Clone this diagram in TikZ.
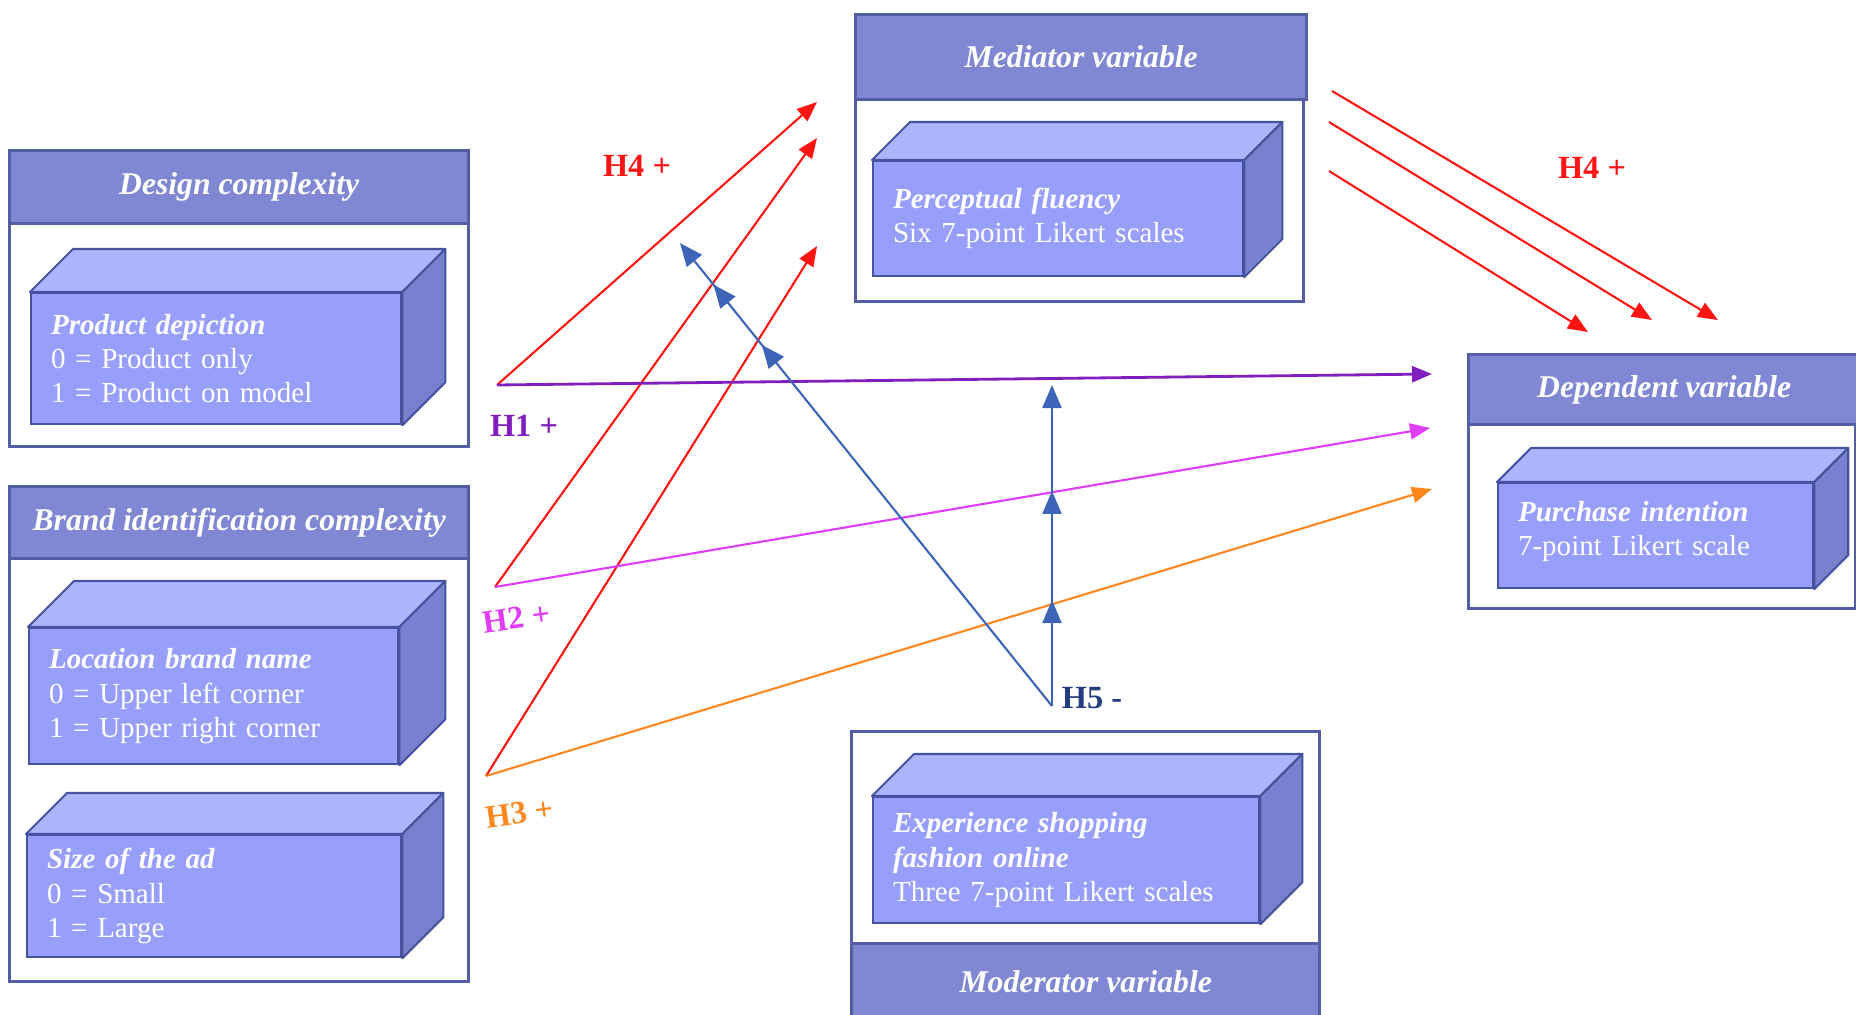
\documentclass[tikz,border=0pt]{standalone}
\usepackage{fontspec}
\setmainfont{Liberation Serif}
\usetikzlibrary{arrows.meta,decorations.markings}

\definecolor{headblue}{RGB}{128,136,212}
\definecolor{frameblue}{RGB}{84,94,164}
\definecolor{frontblue}{RGB}{152,158,252}
\definecolor{topblue}{RGB}{172,180,252}
\definecolor{sideblue}{RGB}{120,128,208}
\definecolor{edgeblue}{RGB}{70,84,160}
\definecolor{hred}{RGB}{255,20,20}
\definecolor{hpurple}{RGB}{128,30,190}
\definecolor{hmagenta}{RGB}{225,60,250}
\definecolor{horange}{RGB}{255,135,30}
\definecolor{hblue}{RGB}{60,100,185}
\definecolor{hnavy}{RGB}{35,60,130}

\newcommand{\boxsides}[2]{%
  \filldraw[topface] (#1.north west) -- ++(#2,-#2) -- ([shift={(#2,-#2)}]#1.north east) -- (#1.north east) -- cycle;
  \filldraw[sideface] (#1.north east) -- ([shift={(#2,-#2)}]#1.north east) -- ([shift={(#2,-#2)}]#1.south east) -- (#1.south east) -- cycle;
}

\tikzset{
  panel/.style={draw=frameblue, line width=0.9pt, anchor=north west, inner sep=0pt},
  panelhead/.style={panel, fill=headblue, text=white, font=\fontsize{9.0}{11}\selectfont\bfseries\itshape},
  front/.style={draw=edgeblue, fill=frontblue, line width=0.6pt, anchor=north west, text=white,
    align=left, inner xsep=0.2cm, inner ysep=0pt, font=\fontsize{8.25}{9.8}\selectfont},
  topface/.style={draw=edgeblue, fill=topblue, line width=0.6pt, line join=round},
  sideface/.style={draw=edgeblue, fill=sideblue, line width=0.6pt, line join=round},
  hyp/.style={line width=0.6pt, -{Triangle[length=0.2cm,width=0.16cm]}},
  h5line/.style={hblue, line width=0.6pt, -{Triangle[length=0.23cm,width=0.19cm]}, postaction={decorate}},
  hlabel/.style={font=\fontsize{9.2}{11}\selectfont\bfseries},
}

\begin{document}
\begin{tikzpicture}[x=0.01cm, y=-0.01cm]
  \useasboundingbox (0,0) rectangle (1856,1015);

  \node[panel, minimum width=4.59cm, minimum height=2.23cm] (dcbody) at (8,222) {};
  \node[panelhead, minimum width=4.59cm, minimum height=0.73cm] (dchead) at (8,149) {Design complexity};
  \node[panel, minimum width=4.59cm, minimum height=4.23cm] (bibody) at (8,557) {};
  \node[panelhead, minimum width=4.59cm, minimum height=0.72cm] (bihead) at (8,485) {Brand identification complexity};
  \node[panel, minimum width=4.48cm, minimum height=2.02cm] (mvbody) at (854,98) {};
  \node[panelhead, minimum width=4.51cm, minimum height=0.85cm] (mvhead) at (854,13) {Mediator variable};
  \node[panel, minimum width=3.87cm, minimum height=1.84cm] (dvbody) at (1467,423) {};
  \node[panelhead, minimum width=3.91cm, minimum height=0.70cm] (dvhead) at (1467,353) {Dependent variable};
  \node[panel, minimum width=4.68cm, minimum height=2.12cm] (mobody) at (850,730) {};
  \node[panelhead, minimum width=4.68cm, minimum height=0.76cm] (mohead) at (850,942) {Moderator variable};

  \node[front, text width=3.30cm, minimum height=1.31cm] (pd) at (30,292)
    {\textbf{\textit{Product depiction}}\\0 = Product only\\1 = Product on model};
  \node[front, text width=3.29cm, minimum height=1.36cm] (lb) at (28,627)
    {\textbf{\textit{Location brand name}}\\0 = Upper left corner\\1 = Upper right corner};
  \node[front, text width=3.34cm, minimum height=1.22cm] (sa) at (26,834)
    {\textbf{\textit{Size of the ad}}\\0 = Small\\1 = Large};
  \node[front, text width=3.30cm, minimum height=1.15cm] (pf) at (872,160)
    {\textbf{\textit{Perceptual fluency}}\\Six 7-point Likert scales};
  \node[front, text width=2.75cm, minimum height=1.05cm] (pi) at (1497,482)
    {\textbf{\textit{Purchase intention}}\\7-point Likert scale\\[-0.2cm]\mbox{}};
  \node[front, text width=3.46cm, minimum height=1.26cm] (es) at (872,796)
    {\textbf{\textit{Experience shopping}}\\\textbf{\textit{fashion online}}\\Three 7-point Likert scales};

  \boxsides{pd}{43}
  \boxsides{lb}{46}
  \boxsides{sa}{41}
  \boxsides{pf}{38}
  \boxsides{pi}{34}
  \boxsides{es}{42}

  \coordinate (h14) at (497,385);
  \coordinate (h24) at (495,587);
  \coordinate (h34) at (486,776);
  \coordinate (m1) at (817,102);
  \coordinate (m2) at (817,138);
  \coordinate (m3) at (817,246);
  \coordinate (d1) at (1432,374);
  \coordinate (d2) at (1430,428);
  \coordinate (d3) at (1432,489);
  \coordinate (o1) at (1332,91);
  \coordinate (o2) at (1329,122);
  \coordinate (o3) at (1329,171);
  \coordinate (e1) at (1718,320);
  \coordinate (e2) at (1652,320);
  \coordinate (e3) at (1588,332);
  \coordinate (h5) at (1052,706);
  \coordinate (h5top) at (1052,385);
  \coordinate (h5tip) at (680,243);

  \draw[hyp, hred] (h14) -- (m1);
  \draw[hyp, hred] (h24) -- (m2);
  \draw[hyp, hred] (h34) -- (m3);
  \draw[hyp, hpurple, line width=0.8pt] (h14) -- (d1);
  \draw[hyp, hmagenta] (h24) -- (d2);
  \draw[hyp, horange] (h34) -- (d3);
  \draw[hyp, hred] (o1) -- (e1);
  \draw[hyp, hred] (o2) -- (e2);
  \draw[hyp, hred] (o3) -- (e3);
  \draw[h5line, decoration={markings,
      mark=at position 0.33 with {\arrow{Triangle[length=0.23cm,width=0.19cm]}},
      mark=at position 0.67 with {\arrow{Triangle[length=0.23cm,width=0.19cm]}}}] (h5) -- (h5top);
  \draw[h5line, decoration={markings,
      mark=at position 0.78 with {\arrow{Triangle[length=0.23cm,width=0.19cm]}},
      mark=at position 0.91 with {\arrow{Triangle[length=0.23cm,width=0.19cm]}}}] (h5) -- (h5tip);

  \node[hlabel, text=hred] (l4a) at (637,166) {H4 +};
  \node[hlabel, text=hred] (l4b) at (1592,168) {H4 +};
  \node[hlabel, text=hpurple] (l1) at (524,426) {H1 +};
  \node[hlabel, text=hmagenta, rotate=8] (l2) at (517,618) {H2 +};
  \node[hlabel, text=horange, rotate=8] (l3) at (520,813) {H3 +};
  \node[hlabel, text=hnavy] (l5) at (1092,698) {H5 -};
\end{tikzpicture}
\end{document}
